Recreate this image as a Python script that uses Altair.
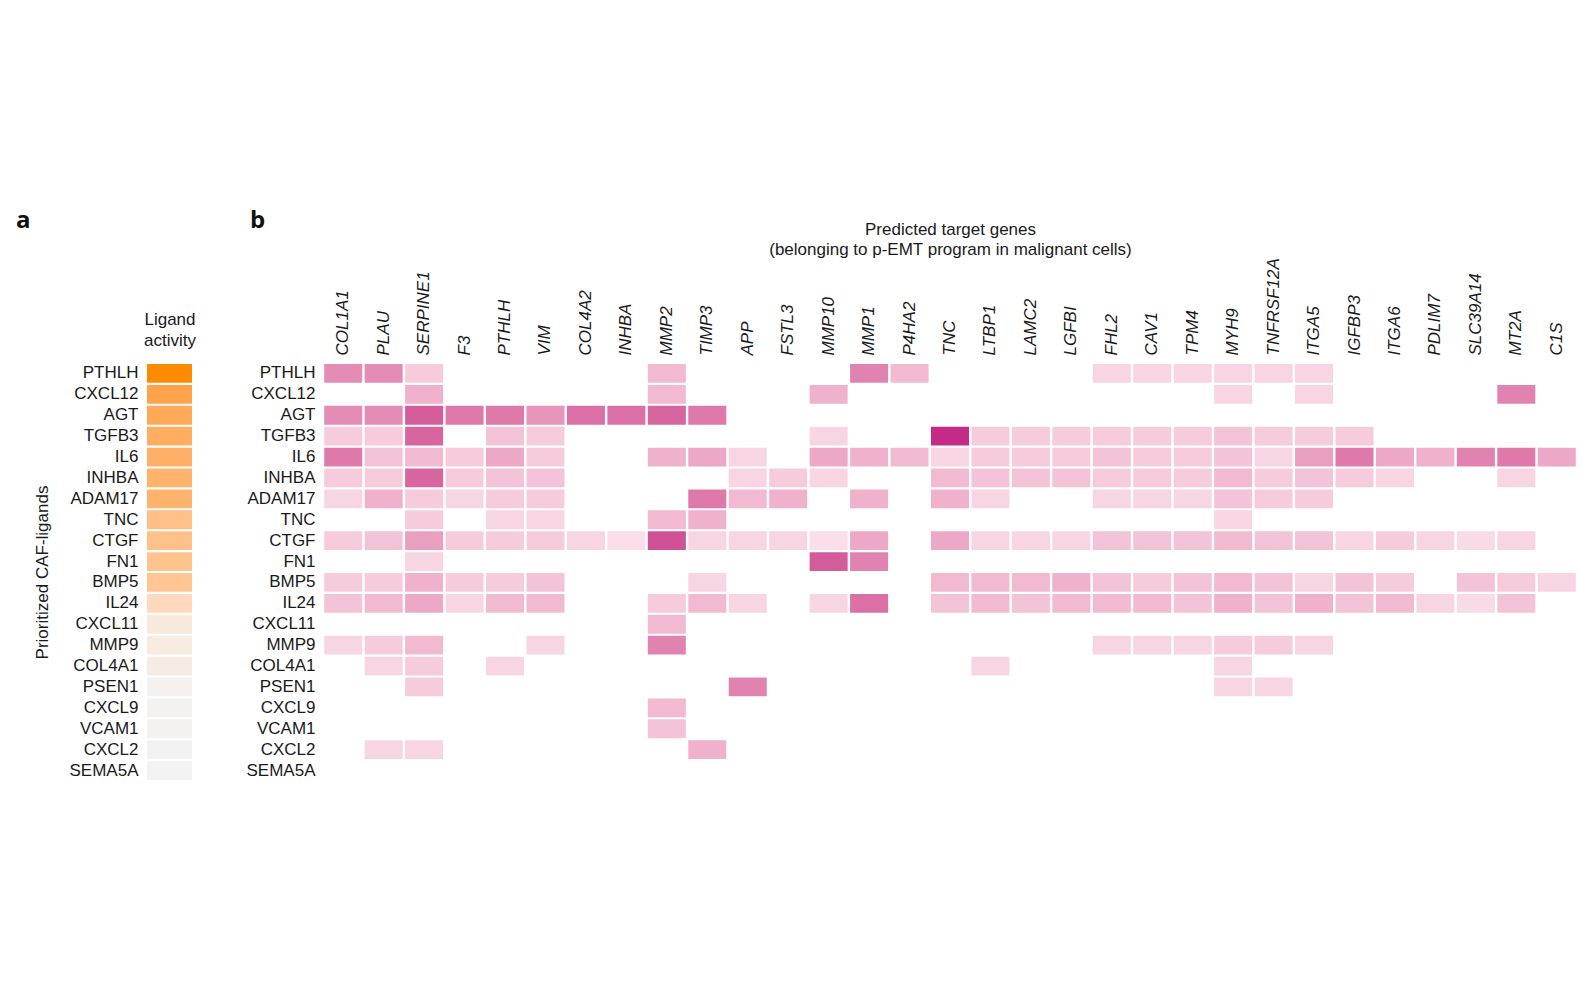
import altair as alt
import pandas as pd

FONT = "Liberation Sans"

ligands = ["PTHLH", "CXCL12", "AGT", "TGFB3", "IL6", "INHBA", "ADAM17", "TNC",
           "CTGF", "FN1", "BMP5", "IL24", "CXCL11", "MMP9", "COL4A1", "PSEN1",
           "CXCL9", "VCAM1", "CXCL2", "SEMA5A"]

ligand_activity = [0.130, 0.119, 0.116, 0.114, 0.113, 0.1115, 0.111, 0.105,
                   0.1045, 0.1035, 0.1025, 0.0925, 0.085, 0.084, 0.0835, 0.081,
                   0.0805, 0.0805, 0.08025, 0.080]

targets = ["COL1A1", "PLAU", "SERPINE1", "F3", "PTHLH", "VIM", "COL4A2", "INHBA",
           "MMP2", "TIMP3", "APP", "FSTL3", "MMP10", "MMP1", "P4HA2", "TNC",
           "LTBP1", "LAMC2", "LGFBI", "FHL2", "CAV1", "TPM4", "MYH9", "TNFRSF12A",
           "ITGA5", "IGFBP3", "ITGA6", "PDLIM7", "SLC39A14", "MT2A", "C1S"]

# regulatory potential (arbitrary units), 0 = not a predicted target
w_PTHLH  = [5.5, 5.5, 2, 0, 0, 0, 0, 0, 3, 0,   0, 0, 0, 6, 3,   0, 0, 0, 0, 1.5,   1.5, 1.5, 1.5, 1.5, 1.5,   0, 0, 0, 0, 0, 0]
w_CXCL12 = [0, 0, 3.5, 0, 0, 0, 0, 0, 3, 0,     0, 0, 3.5, 0, 0, 0, 0, 0, 0, 0,     0, 0, 1.5, 0, 1.5,         0, 0, 0, 0, 6, 0]
w_AGT    = [5.5, 5.5, 8, 6.5, 6.5, 5, 7, 7, 7.5, 6.5, 0, 0, 0, 0, 0, 0, 0, 0, 0, 0,  0, 0, 0, 0, 0,             0, 0, 0, 0, 0, 0]
w_TGFB3  = [2, 2, 7.5, 0, 2.5, 2, 0, 0, 0, 0,   0, 0, 1.5, 0, 0, 10, 2, 2, 2, 2,    2, 2, 2.5, 2, 2,           2, 0, 0, 0, 0, 0]
w_IL6    = [6.5, 2.5, 3, 2, 4, 2, 0, 0, 3.5, 4, 1.5, 0, 4, 3.5, 3, 1.5, 2, 2, 2, 2.5, 2, 2, 2.5, 1.5, 4.5,     6.5, 4, 3.5, 6, 6.5, 4]
w_INHBA  = [2, 2, 7.5, 2, 2.5, 2.5, 0, 0, 0, 0, 1.5, 2, 1.5, 0, 0, 3, 2.5, 2.5, 2.5, 2, 2, 2, 3, 2, 2.5,       2, 1.5, 0, 0, 1.5, 0]
w_ADAM17 = [1.5, 3.5, 2, 1.5, 2, 2, 0, 0, 0, 6.5, 3, 3.5, 0, 3.5, 0, 3.5, 1.5, 0, 0, 1.5, 1.5, 1.5, 2.5, 2, 2, 0, 0, 0, 0, 0, 0]
w_TNC    = [0, 0, 2, 0, 1.5, 1.5, 0, 0, 3, 3.5, 0, 0, 0, 0, 0, 0, 0, 0, 0, 0,       0, 0, 1.5, 0, 0,           0, 0, 0, 0, 0, 0]
w_CTGF   = [2, 2.5, 4.5, 2, 2, 2, 1.5, 1, 8.5, 1.5, 1.5, 1.5, 1, 4, 0, 4, 1.5, 1.5, 1.5, 2.5, 2.5, 2.5, 3, 2.5, 2.5, 1.5, 2, 1.5, 1.2, 1.5, 0]
w_FN1    = [0, 0, 1.5, 0, 0, 0, 0, 0, 0, 0,     0, 0, 8, 6, 0, 0, 0, 0, 0, 0,       0, 0, 0, 0, 0,             0, 0, 0, 0, 0, 0]
w_BMP5   = [2, 2, 3.5, 2, 2, 2.5, 0, 0, 0, 1.5, 0, 0, 0, 0, 0, 3, 3, 3, 3.5, 2.5,   2, 2.5, 3, 2.5, 1.5,       2.5, 2, 0, 2.5, 2, 1.5]
w_IL24   = [2.5, 3, 4, 1.5, 3, 3, 0, 0, 2, 3,   1.5, 0, 1.5, 7, 0, 2.5, 3, 2.5, 3, 3, 3, 2.5, 3.5, 2.5, 3.5,   2.5, 3, 1.5, 1.2, 2.5, 0]
w_CXCL11 = [0, 0, 0, 0, 0, 0, 0, 0, 3, 0,       0, 0, 0, 0, 0, 0, 0, 0, 0, 0,       0, 0, 0, 0, 0,             0, 0, 0, 0, 0, 0]
w_MMP9   = [1.5, 2, 3, 0, 0, 1.5, 0, 0, 6, 0,   0, 0, 0, 0, 0, 0, 0, 0, 0, 1.5,     1.5, 1.5, 2, 2, 1.5,       0, 0, 0, 0, 0, 0]
w_COL4A1 = [0, 1.5, 2, 0, 1.5, 0, 0, 0, 0, 0,   0, 0, 0, 0, 0, 0, 1.5, 0, 0, 0,     0, 0, 1.5, 0, 0,           0, 0, 0, 0, 0, 0]
w_PSEN1  = [0, 0, 2, 0, 0, 0, 0, 0, 0, 0,       6, 0, 0, 0, 0, 0, 0, 0, 0, 0,       0, 0, 1.5, 1.5, 0,         0, 0, 0, 0, 0, 0]
w_CXCL9  = [0, 0, 0, 0, 0, 0, 0, 0, 3, 0,       0, 0, 0, 0, 0, 0, 0, 0, 0, 0,       0, 0, 0, 0, 0,             0, 0, 0, 0, 0, 0]
w_VCAM1  = [0, 0, 0, 0, 0, 0, 0, 0, 2.5, 0,     0, 0, 0, 0, 0, 0, 0, 0, 0, 0,       0, 0, 0, 0, 0,             0, 0, 0, 0, 0, 0]
w_CXCL2  = [0, 1.5, 1.5, 0, 0, 0, 0, 0, 0, 3.5, 0, 0, 0, 0, 0, 0, 0, 0, 0, 0,       0, 0, 0, 0, 0,             0, 0, 0, 0, 0, 0]
w_SEMA5A = [0] * 31

weight_rows = [w_PTHLH, w_CXCL12, w_AGT, w_TGFB3, w_IL6, w_INHBA, w_ADAM17, w_TNC,
               w_CTGF, w_FN1, w_BMP5, w_IL24, w_CXCL11, w_MMP9, w_COL4A1, w_PSEN1,
               w_CXCL9, w_VCAM1, w_CXCL2, w_SEMA5A]

panel_letters = ["a", "b"]

records = []
for lig, row in zip(ligands, weight_rows):
    for tgt, v in zip(targets, row):
        if v > 0:
            records.append({"ligand": lig, "target": tgt, "potential": v})
pot_df = pd.DataFrame(records)

act_df = pd.DataFrame({"ligand": ligands, "activity": ligand_activity,
                       "col": ["Ligand activity"] * len(ligands)})

y_scale = alt.Scale(domain=ligands, paddingInner=0.1, paddingOuter=0.05)


def letter(txt, dx):
    return alt.Chart(pd.DataFrame({"t": [txt]})).mark_text(
        font="Open Sans", fontSize=24, fontWeight="bold", color="#111",
        align="left", baseline="alphabetic",
    ).encode(text="t:N", x=alt.value(dx), y=alt.value(-135))


rect_a = alt.Chart(act_df).mark_rect().encode(
    x=alt.X("col:N", scale=alt.Scale(paddingInner=0, paddingOuter=0),
            axis=alt.Axis(orient="top", labels=False, title=["Ligand", "activity"],
                          titlePadding=14, titleLineHeight=21)),
    y=alt.Y("ligand:N", scale=y_scale,
            axis=alt.Axis(title="Prioritized CAF-ligands", labelPadding=9, titlePadding=18)),
    color=alt.Color("activity:Q", legend=None,
                    scale=alt.Scale(domain=[0.08, 0.13], range=["#f3f3f3", "#ff8c00"])),
)
panel_a = alt.layer(rect_a, letter(panel_letters[0], -131)).properties(width=45, height=418)

rect_b = alt.Chart(pot_df).mark_rect().encode(
    x=alt.X("target:N", scale=alt.Scale(domain=targets, paddingInner=0.06, paddingOuter=0.03),
            axis=alt.Axis(orient="top", labelAngle=270, labelFontStyle="italic", labelPadding=8,
                          title=["Predicted target genes",
                                 "(belonging to p-EMT program in malignant cells)"],
                          titlePadding=-1, titleLineHeight=20)),
    y=alt.Y("ligand:N", scale=y_scale, axis=alt.Axis(title=None, labelPadding=8)),
    color=alt.Color("potential:Q", legend=None,
                    scale=alt.Scale(domain=[0, 10], range=["#fdf0f5", "#c52a86"])),
)
panel_b = alt.layer(rect_b, letter(panel_letters[1], -73)).properties(width=1254, height=418)

chart = alt.hconcat(panel_a, panel_b, spacing=50).resolve_scale(
    color="independent"
).properties(
    padding={"left": 16, "top": 209, "right": 2, "bottom": 5}
).configure_view(stroke=None).configure_axis(
    labelFont=FONT, titleFont=FONT, labelFontSize=17, titleFontSize=17,
    labelColor="#1a1a1a", titleColor="#1a1a1a", titleFontWeight="normal",
    grid=False, domain=False, ticks=False, tickSize=0,
)

chart.save("out.html", embed_options={"renderer": "svg", "actions": False})
